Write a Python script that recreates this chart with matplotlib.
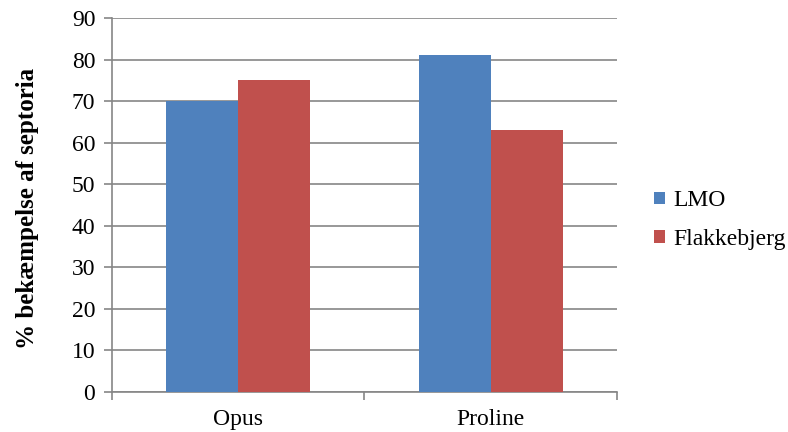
import matplotlib.pyplot as plt
import numpy as np

categories = ["Opus", "Proline"]
lmo = [70, 81]
flakkebjerg = [75, 63]
series_names = ["LMO", "Flakkebjerg"]
yticks = list(range(0, 100, 10))

plt.rcParams['font.family'] = ['Liberation Serif', 'DejaVu Serif']

fig = plt.figure(figsize=(7.88, 4.32), dpi=100)
ax = fig.add_axes([0.1421, 0.0926, 0.6409, 0.8657])

x = np.arange(len(categories))
w = 0.2857
ax.bar(x - w / 2, lmo, w, color='#4F81BD', label=series_names[0], zorder=3)
ax.bar(x + w / 2, flakkebjerg, w, color='#C0504D', label=series_names[1], zorder=3)

ax.set_xlim(-0.5, 1.5)
ax.set_ylim(0, 90)
ax.set_yticks(yticks)
ax.set_yticklabels([str(t) for t in yticks], fontsize=17)
ax.set_xticks(x)
ax.set_xticklabels(categories, fontsize=17)
ax.tick_params(axis='x', length=0, pad=12)
ax.set_xticks([-0.5, 0.5, 1.5], minor=True)
ax.tick_params(axis='x', which='minor', length=6, color='#868686', width=1.2)
ax.tick_params(axis='y', length=6, color='#868686', width=1.2, pad=6)

ax.grid(axis='y', color='#868686', linewidth=1.2, zorder=0)
for s in ['top', 'right']:
    ax.spines[s].set_visible(False)
for s in ['left', 'bottom']:
    ax.spines[s].set_color('#868686')
    ax.spines[s].set_linewidth(1.2)

ax.set_ylabel("% bekæmpelse af septoria", fontsize=18, fontweight='bold')
ax.yaxis.set_label_coords(-0.145, 0.49)

fig.legend(loc='center left', bbox_to_anchor=(0.803, 0.49), frameon=False,
           fontsize=17, handlelength=0.45, handleheight=0.45, handletextpad=0.35,
           labelspacing=0.75)

fig.savefig("out.png", dpi=100)
